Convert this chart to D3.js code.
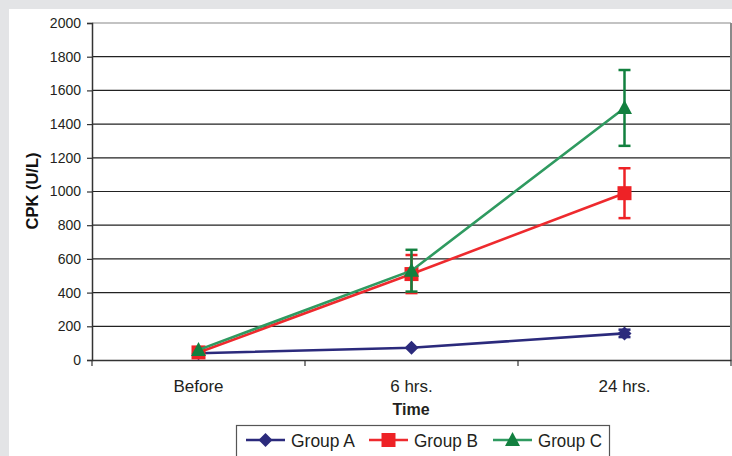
<!DOCTYPE html>
<html><head><meta charset="utf-8">
<script src="https://cdn.jsdelivr.net/npm/d3@7"></script>
<style>html,body{margin:0;padding:0;background:#fff;}svg{display:block;}</style>
</head><body>
<svg id="c" width="732" height="456"></svg>
<script>
const categories = ["Before", "6 hrs.", "24 hrs."];
const yTicks = [0, 200, 400, 600, 800, 1000, 1200, 1400, 1600, 1800, 2000];
const seriesNames = ["Group A", "Group B", "Group C"];
const groupA = [40, 73, 158];
const errA = [0, 0, 22];
const groupB = [45, 510, 990];
const errB = [0, 113, 148];
const groupC = [60, 530, 1496];
const errC = [0, 124, 225];

const series = [
  {name: seriesNames[0], values: groupA, err: errA, line: "#2b2a7c", mark: "#2b2a7c", shape: "diamond"},
  {name: seriesNames[1], values: groupB, err: errB, line: "#ee2a2e", mark: "#ee2226", shape: "square"},
  {name: seriesNames[2], values: groupC, err: errC, line: "#2f9a60", mark: "#12803f", shape: "triangle"}
];

const svg = d3.select("#c");
const font = "'Liberation Sans', Arial, sans-serif";

// background frame
svg.append("rect").attr("x",0).attr("y",0).attr("width",732).attr("height",456).attr("fill","#e3e4e6");
svg.append("rect").attr("x",9).attr("y",9).attr("width",723).attr("height",447).attr("fill","#ffffff");

const L = 92, R = 731, T = 23, B = 360;
const x = d3.scaleBand().domain(categories).range([L, R]);
const y = d3.scaleLinear().domain([0, 2000]).range([B, T]);
const cx = c => x(c) + x.bandwidth() / 2;

// gridlines
svg.append("g").selectAll("line").data(yTicks.filter(d => d > 0)).join("line")
  .attr("x1", L).attr("x2", R).attr("y1", d => y(d)).attr("y2", d => y(d))
  .attr("stroke", d => d === 2000 ? "#888" : "#222").attr("stroke-width", 1.2);
// right border
svg.append("line").attr("x1", R).attr("x2", R).attr("y1", T).attr("y2", B + 6)
  .attr("stroke", "#8a8a8a").attr("stroke-width", 2);

// y axis
const yAxis = svg.append("g").attr("transform", `translate(${L},0)`)
  .call(d3.axisLeft(y).tickValues(yTicks).tickSize(5).tickPadding(6).tickFormat(d3.format("d")));
yAxis.select(".domain").attr("stroke", "#333").attr("stroke-width", 1.5);
yAxis.selectAll(".tick line").attr("stroke", "#333").attr("stroke-width", 1.2);
yAxis.selectAll("text").attr("font-family", font).attr("font-size", 14).attr("fill", "#231f20");

// x axis
const xAxis = svg.append("g").attr("transform", `translate(0,${B})`)
  .call(d3.axisBottom(x).tickSize(0).tickPadding(20));
xAxis.select(".domain").attr("stroke", "#333").attr("stroke-width", 1.5);
xAxis.selectAll("text").attr("font-family", font).attr("font-size", 17).attr("fill", "#231f20");
// boundary ticks
svg.append("g").selectAll("line").data(categories).join("line")
  .attr("x1", d => x(d)).attr("x2", d => x(d)).attr("y1", B).attr("y2", B + 6)
  .attr("stroke", "#333").attr("stroke-width", 1.2);

// titles
svg.append("text").attr("x", 411).attr("y", 415).attr("text-anchor", "middle")
  .attr("font-family", font).attr("font-weight", "bold").attr("font-size", 16).attr("fill", "#231f20").text("Time");
svg.append("text").attr("transform", "translate(38,191) rotate(-90)").attr("text-anchor", "middle")
  .attr("font-family", font).attr("font-weight", "bold").attr("font-size", 16.5).attr("fill", "#111").text("CPK (U/L)");

function drawMarker(g, shape, color, px, py) {
  if (shape === "diamond") {
    g.append("path").attr("d", `M${px},${py-7}L${px+7},${py}L${px},${py+7}L${px-7},${py}Z`).attr("fill", color);
  } else if (shape === "square") {
    g.append("rect").attr("x", px-7).attr("y", py-7).attr("width", 14).attr("height", 14).attr("fill", color);
  } else {
    g.append("path").attr("d", `M${px},${py-8}L${px+7.5},${py+6}L${px-7.5},${py+6}Z`).attr("fill", color);
  }
}

const line = d3.line().x((d, i) => cx(categories[i])).y(d => y(d));
series.forEach(s => {
  const g = svg.append("g");
  // error bars
  s.values.forEach((v, i) => {
    const e = s.err[i];
    if (!e) return;
    const px = cx(categories[i]);
    g.append("line").attr("x1", px).attr("x2", px).attr("y1", y(v - e)).attr("y2", y(v + e))
      .attr("stroke", s.mark).attr("stroke-width", 2.5);
    [v - e, v + e].forEach(w => g.append("line").attr("x1", px - 6).attr("x2", px + 6)
      .attr("y1", y(w)).attr("y2", y(w)).attr("stroke", s.mark).attr("stroke-width", 2.5));
  });
  g.append("path").attr("d", line(s.values)).attr("fill", "none").attr("stroke", s.line).attr("stroke-width", 2.6);
  s.values.forEach((v, i) => drawMarker(g, s.shape, s.mark, cx(categories[i]), y(v)));
});

// legend
const lg = svg.append("g");
lg.append("rect").attr("x", 236.5).attr("y", 425.5).attr("width", 373).attr("height", 40)
  .attr("fill", "#fff").attr("stroke", "#555").attr("stroke-width", 1.2);
const legendX = [246, 369, 493];
series.forEach((s, i) => {
  const x0 = legendX[i], ly = 440;
  lg.append("line").attr("x1", x0).attr("x2", x0 + 39).attr("y1", ly).attr("y2", ly)
    .attr("stroke", s.line).attr("stroke-width", 2.6);
  drawMarker(lg, s.shape, s.mark, x0 + 19.5, ly);
  lg.append("text").attr("x", x0 + 45).attr("y", ly + 7).attr("font-family", font).attr("font-size", 18)
    .attr("textLength", 64).attr("lengthAdjust", "spacingAndGlyphs").attr("fill", "#231f20").text(s.name);
});
</script>
</body></html>
